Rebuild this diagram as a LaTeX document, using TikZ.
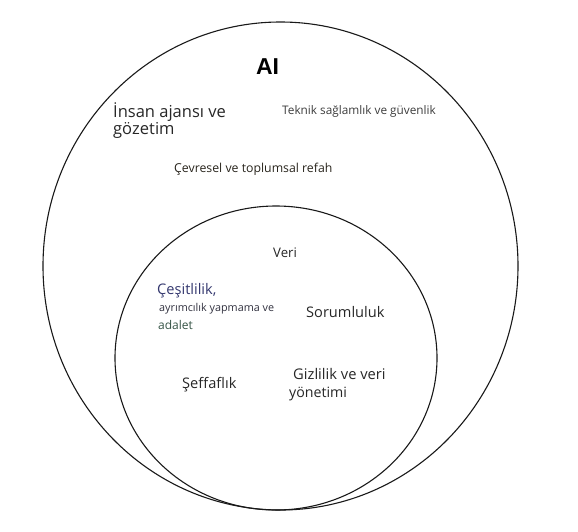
\documentclass[tikz,border=0pt]{standalone}
\usepackage{fontspec}
\setmainfont{Open Sans}
\newfontfamily\titlefont{Liberation Sans}
\usetikzlibrary{shapes.geometric}
\definecolor{txtdark}{HTML}{262626}
\definecolor{txtgray}{HTML}{3C3C3C}
\definecolor{txtbrown}{HTML}{28241C}
\definecolor{txtnavy}{HTML}{33376E}
\definecolor{txtslate}{HTML}{30303E}
\definecolor{txtgreen}{HTML}{365446}
\tikzset{
  ring/.style={ellipse, draw=black!90, line width=1.1pt, inner sep=0pt},
  lbl/.style={anchor=base west, inner sep=0pt, text=txtdark},
}
\begin{document}
\begin{tikzpicture}[x=1pt,y=-1pt]
\useasboundingbox (0,0) rectangle (578,531);
\node[ring, minimum width=475pt, minimum height=488pt] (outer) at (280.5,266) {};
\node[ring, minimum width=322pt, minimum height=304pt] (inner) at (276,358) {};
\node[anchor=base, inner sep=0pt] (ai) at (267.5,74) {\titlefont\bfseries\fontsize{23}{26}\selectfont AI};
\node[lbl, font=\fontsize{16.5}{18}\selectfont, text=txtdark] (insan1) at (113,117) {İnsan ajansı ve};
\node[lbl, font=\fontsize{16.5}{18}\selectfont, text=txtdark] (insan2) at (113,134) {gözetim};
\node[lbl, font=\fontsize{11.8}{14}\selectfont, text=txtgray] (teknik) at (282,114) {Teknik sağlamlık ve güvenlik};
\node[lbl, font=\fontsize{12.3}{14}\selectfont, text=txtbrown] (cevre) at (174,172) {Çevresel ve toplumsal refah};
\node[lbl, font=\fontsize{13.2}{15}\selectfont] (veri) at (273,257) {Veri};
\node[lbl, font=\fontsize{14.6}{17}\selectfont, text=txtnavy] (cesit1) at (157,294) {Çeşitlilik,};
\node[lbl, font=\fontsize{10.8}{13}\selectfont, text=txtslate] (cesit2) at (159,311) {ayrımcılık yapmama ve};
\node[lbl, font=\fontsize{12}{14}\selectfont, text=txtgreen] (cesit3) at (158,329) {adalet};
\node[lbl, font=\fontsize{14.6}{17}\selectfont] (sorum) at (306,317) {Sorumluluk};
\node[lbl, font=\fontsize{14.6}{17}\selectfont] (seffaf) at (182,388) {Şeffaflık};
\node[lbl, font=\fontsize{14.7}{17}\selectfont] (gizli1) at (293,379) {Gizlilik ve veri};
\node[lbl, font=\fontsize{14.2}{17}\selectfont] (gizli2) at (289,397) {yönetimi};
\end{tikzpicture}
\end{document}
